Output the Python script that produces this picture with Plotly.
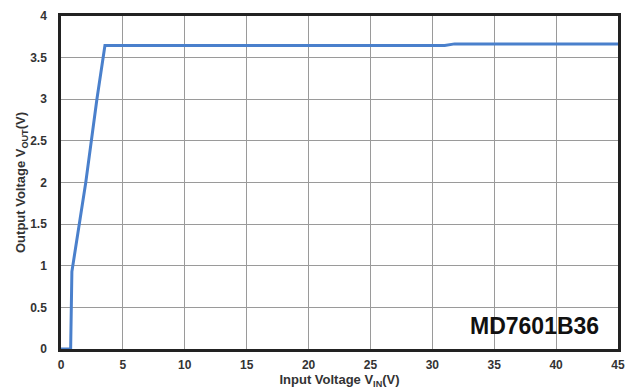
import plotly.graph_objects as go

# Input voltage (V) and output voltage (V) for the MD7601B36 regulator
vin = [0.0, 0.78, 0.88, 1.5, 2.0, 2.9, 3.55, 10.0, 20.0, 31.0, 31.8, 45.0]
vout = [0.0, 0.0, 0.93, 1.52, 2.0, 3.0, 3.645, 3.645, 3.645, 3.645, 3.665, 3.665]

x_ticks = [0, 5, 10, 15, 20, 25, 30, 35, 40, 45]
y_ticks = [0, 0.5, 1, 1.5, 2, 2.5, 3, 3.5, 4]
y_tick_text = ["0", "0.5", "1", "1.5", "2", "2.5", "3", "3.5", "4"]

part_name = "MD7601B36"

font_family = "Liberation Sans, Arial, sans-serif"

fig = go.Figure()
fig.add_trace(go.Scatter(
    x=vin, y=vout, mode="lines",
    line=dict(color="#4a80cc", width=3),
    hoverinfo="skip",
))

axis_common = dict(
    showgrid=True, gridcolor="#9a9a9a", gridwidth=1,
    showline=True, linecolor="#222222", linewidth=2.5, mirror=True,
    zeroline=False, ticks="", automargin=False,
    tickfont=dict(family=font_family, size=12, color="#333333", weight="bold"),
)

fig.update_xaxes(
    range=[0, 45], tickvals=x_ticks, ticklabelstandoff=3,
    title=dict(text="<b>Input Voltage V<sub>IN</sub>(V)</b>",
               font=dict(family=font_family, size=13, color="#333333"),
               standoff=3),
    **axis_common,
)
fig.update_yaxes(
    range=[0, 4], tickvals=y_ticks, ticktext=y_tick_text, ticklabelstandoff=9,
    title=dict(text="<b>Output Voltage V<sub>OUT</sub>(V)</b>",
               font=dict(family=font_family, size=13, color="#333333"),
               standoff=2),
    **axis_common,
)

fig.add_annotation(
    x=43.6, y=0.28, xref="x", yref="y",
    text="<b>" + part_name + "</b>", showarrow=False,
    xanchor="right", yanchor="middle",
    font=dict(family=font_family, size=23, color="#111111"),
)

fig.update_layout(
    width=638, height=391,
    margin=dict(l=61, r=20, t=16, b=42),
    paper_bgcolor="white", plot_bgcolor="white",
    showlegend=False,
)

fig.write_html("out.html")
